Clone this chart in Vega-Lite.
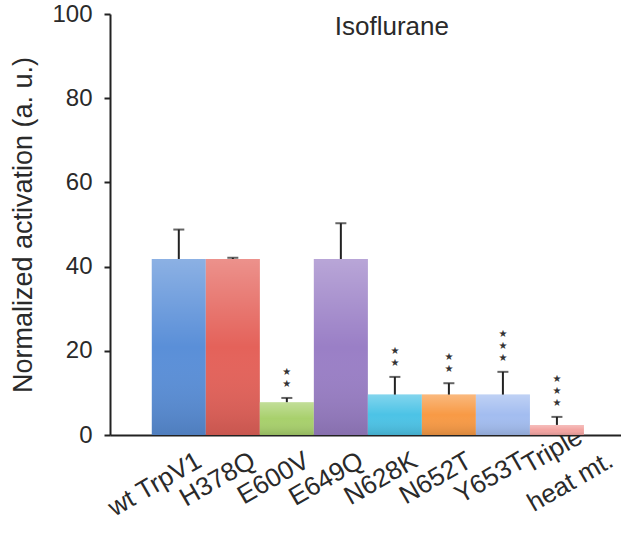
{
  "$schema": "https://vega.github.io/schema/vega-lite/v6.json",
  "width": 511,
  "height": 421,
  "autosize": {"type": "none"},
  "padding": {"left": 110, "top": 14, "right": 0, "bottom": 100},
  "background": "white",
  "config": {
    "view": {"stroke": null},
    "font": "Liberation Sans"
  },
  "data": {
    "values": [
      {"label": "wt TrpV1", "mean": 41.8, "err": 48.8, "stars": []},
      {"label": "H378Q", "mean": 41.8, "err": 42.1, "stars": []},
      {"label": "E600V", "mean": 7.8, "err": 8.8, "stars": ["★", "★"]},
      {"label": "E649Q", "mean": 41.8, "err": 50.3, "stars": []},
      {"label": "N628K", "mean": 9.6, "err": 13.8, "stars": ["★", "★"]},
      {"label": "N652T", "mean": 9.6, "err": 12.3, "stars": ["★", "★"]},
      {"label": "Y653T", "mean": 9.6, "err": 15.0, "stars": ["★", "★", "★"]},
      {"label": "Triple heat mt.", "mean": 2.4, "err": 4.3, "stars": ["★", "★", "★"]}
    ]
  },
  "encoding": {
    "x": {
      "field": "label",
      "type": "nominal",
      "sort": null,
      "scale": {"paddingInner": 0, "paddingOuter": 0.73, "align": 0.53},
      "axis": {
        "title": null,
        "labelAngle": -30,
        "labelAlign": {"condition": {"test": "datum.value == 'Triple heat mt.'", "value": "center"}, "value": "right"},
        "labelBaseline": "top",
        "labelFontSize": 26,
        "labelColor": "#2a2a2a",
        "labelOffset": {"condition": {"test": "datum.value == 'Triple heat mt.'", "value": -11}, "value": 14},
        "labelPadding": {"condition": {"test": "datum.value == 'Triple heat mt.'", "value": 4}, "value": 12},
        "labelLineHeight": 36,
        "labelOverlap": false,
        "labelBound": false,
        "labelLimit": 300,
        "labelExpr": "datum.value == 'Triple heat mt.' ? ['Triple', 'heat mt.'] : datum.value",
        "ticks": false,
        "domainColor": "#222",
        "domainWidth": 2
      }
    }
  },
  "layer": [
    {
      "mark": {"type": "bar"},
      "encoding": {
        "y": {
          "field": "mean",
          "type": "quantitative",
          "scale": {"domain": [0, 100], "nice": false},
          "axis": {
            "values": [0, 20, 40, 60, 80, 100],
            "grid": false,
            "title": "Normalized activation (a. u.)",
            "titleFontSize": 27,
            "titleFontWeight": "normal",
            "titleColor": "#2a2a2a",
            "titlePadding": 14,
            "labelFontSize": 24,
            "labelColor": "#2a2a2a",
            "labelPadding": 12,
            "tickSize": 6,
            "tickWidth": 2,
            "tickColor": "#222",
            "domainColor": "#222",
            "domainWidth": 2
          }
        },
        "color": {
          "field": "label",
          "type": "nominal",
          "legend": null,
          "scale": {
            "domain": ["wt TrpV1", "H378Q", "E600V", "E649Q", "N628K", "N652T", "Y653T", "Triple heat mt."],
            "range": ["#5a8fd8", "#e4625a", "#a8d06c", "#9a7fc6", "#4cc3e6", "#f89a45", "#a3bdf0", "#f2a3a0"]
          }
        }
      }
    },
    {
      "mark": {
        "type": "bar",
        "fill": {
          "gradient": "linear",
          "x1": 0, "y1": 0, "x2": 0, "y2": 1,
          "stops": [
            {"offset": 0, "color": "rgba(255,255,255,0.3)"},
            {"offset": 0.5, "color": "rgba(255,255,255,0)"},
            {"offset": 1, "color": "rgba(0,0,0,0.12)"}
          ]
        }
      },
      "encoding": {
        "y": {"field": "mean", "type": "quantitative"}
      }
    },
    {
      "mark": {"type": "rule", "color": "#222", "strokeWidth": 2},
      "encoding": {
        "y": {"field": "mean", "type": "quantitative"},
        "y2": {"field": "err"}
      }
    },
    {
      "mark": {"type": "tick", "color": "#222", "thickness": 2, "size": 11},
      "encoding": {
        "y": {"field": "err", "type": "quantitative"}
      }
    },
    {
      "transform": [{"filter": "length(datum.stars) == 2"}],
      "mark": {
        "type": "text",
        "font": "DejaVu Sans",
        "fontSize": 10,
        "lineHeight": 12,
        "color": "#333",
        "baseline": "bottom",
        "dy": -21
      },
      "encoding": {
        "y": {"field": "err", "type": "quantitative"},
        "text": {"field": "stars", "type": "nominal"}
      }
    },
    {
      "transform": [{"filter": "length(datum.stars) == 3"}],
      "mark": {
        "type": "text",
        "font": "DejaVu Sans",
        "fontSize": 10,
        "lineHeight": 12,
        "color": "#333",
        "baseline": "bottom",
        "dy": -33
      },
      "encoding": {
        "y": {"field": "err", "type": "quantitative"},
        "text": {"field": "stars", "type": "nominal"}
      }
    },
    {
      "data": {"values": [{"panel": "Isoflurane", "xpos": "N628K", "ypos": 95}]},
      "mark": {
        "type": "text",
        "fontSize": 26,
        "color": "#2a2a2a",
        "baseline": "alphabetic",
        "align": "center",
        "dx": -3
      },
      "encoding": {
        "x": {"field": "xpos", "type": "nominal"},
        "y": {"field": "ypos", "type": "quantitative"},
        "text": {"field": "panel", "type": "nominal"}
      }
    }
  ]
}
